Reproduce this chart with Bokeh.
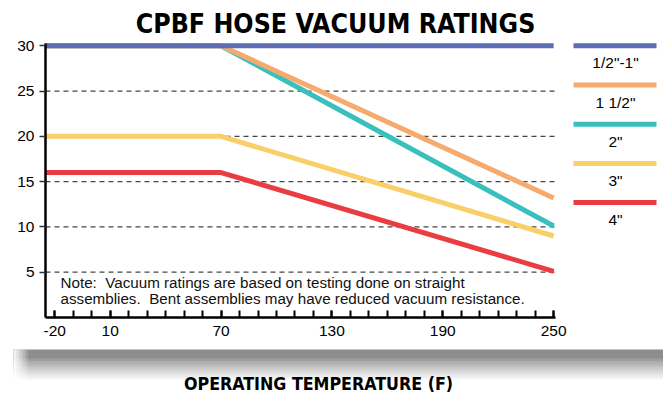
from bokeh.plotting import figure
from bokeh.models import Range1d, FixedTicker, Label, BoxAnnotation, LinearAxis
from bokeh.embed import file_html
from bokeh.resources import INLINE

# ---- data ----
temps = [-25, 70, 250]
series_names = ['1/2"-1"', '1 1/2"', '2"', '3"', '4"']
series_colors = ["#5d6db5", "#f6aa6d", "#39c0bd", "#f8cf68", "#e93d41"]
vac_half_to_1 = [30, 30, 30]
vac_1_half = [30, 30, 13.2]
vac_2 = [30, 30, 10.1]
vac_3 = [20, 20, 9.0]
vac_4 = [16, 16, 5.1]
series_values = [vac_half_to_1, vac_1_half, vac_2, vac_3, vac_4]
x_label_ticks = [-20, 10, 70, 130, 190, 250]
x_all_ticks = list(range(-20, 251, 10))
y_ticks = [5, 10, 15, 20, 25, 30]
grid_ticks = [5, 10, 15, 20, 25]
x_lo, x_hi = -25, 251
y_lo, y_hi = 0, 30.25
title_text = "CPBF HOSE VACUUM RATINGS"
x_title_text = "OPERATING TEMPERATURE (F)"
note_lines = ["Note:\u00a0 Vacuum ratings are based on testing done on straight",
              "assemblies.\u00a0 Bent assemblies may have reduced vacuum resistance."]

NARROW = "Liberation Sans Narrow, DejaVu Sans Condensed, sans-serif"
SANS = "Liberation Sans, Arial, sans-serif"

W, H = 663, 400
# page geometry of the plotting area
px_left, px_right = 45, 555
py_top0, py_zero = 45.3, 317
sx = (px_right - px_left) / (x_hi - x_lo)
sy = (py_zero - py_top0) / 30.0
xr = Range1d(x_lo - px_left / sx, x_lo + (W - px_left) / sx)
yr = Range1d(-(H - py_zero) / sy, py_zero / sy)

p = figure(width=W, height=H, output_backend="svg", toolbar_location=None,
           x_range=xr, y_range=yr, x_axis_location=None, y_axis_location=None,
           min_border=0, min_border_left=0, min_border_right=0,
           min_border_top=0, min_border_bottom=0)
p.outline_line_color = None
p.background_fill_color = "white"
p.border_fill_color = "white"
p.xgrid.visible = False
p.ygrid.visible = False

def box(l, r, t, b, color, alpha=1.0, level="underlay"):
    # screen units: origin at bottom-left of the canvas
    p.add_layout(BoxAnnotation(left=l, right=r, top=t, bottom=b,
                               left_units="screen", right_units="screen",
                               top_units="screen", bottom_units="screen",
                               fill_color=color, fill_alpha=alpha, line_color=None, level=level))

# shadow under the chart card
sh_top = H - 349
n_strips = 20
for i in range(n_strips):
    t = i / (n_strips - 1)
    if t < 0.22:
        g = 0x8c
    else:
        g = int(0x8c + (0xff - 0x8c) * ((t - 0.22) / 0.78) ** 0.85)
    col = "#%02x%02x%02x" % (g, g, g)
    box(13, W, sh_top - i * 1.6, sh_top - (i + 1) * 1.6 - 0.4, col)
# left fade of shadow
for j in range(10):
    box(13 + j * 1.5, 13 + (j + 1) * 1.5 + 0.3, sh_top, sh_top - 33, "white",
        alpha=1.0 - (j + 1) / 11.0)

# dashed gridlines bounded to the plot
p.segment(x0=[x_lo] * len(grid_ticks), x1=[x_hi] * len(grid_ticks),
          y0=grid_ticks, y1=grid_ticks, line_color="#444444", line_width=1.2,
          line_dash="5 4")

for vals, col in list(zip(series_values, series_colors))[::-1]:
    p.line(temps, vals, line_color=col, line_width=5, line_cap="butt")

# axes at fixed locations
xaxis = LinearAxis(fixed_location=y_lo, bounds=(x_lo, x_hi),
                   ticker=FixedTicker(ticks=x_label_ticks, minor_ticks=x_all_ticks))
xaxis.major_label_overrides = {t: str(t) for t in x_label_ticks}
xaxis.axis_line_width = 2.5
xaxis.axis_line_color = "black"
xaxis.major_tick_in = 7
xaxis.major_tick_out = 0
xaxis.minor_tick_in = 7
xaxis.minor_tick_out = 0
xaxis.major_tick_line_width = 2
xaxis.minor_tick_line_width = 2
xaxis.major_tick_line_color = "black"
xaxis.minor_tick_line_color = "black"
xaxis.major_label_text_font = SANS
xaxis.major_label_text_font_size = "15.5px"
xaxis.major_label_text_color = "black"
xaxis.major_label_standoff = 8
p.add_layout(xaxis, "below")

yaxis = LinearAxis(fixed_location=x_lo, bounds=(y_lo, y_hi),
                   ticker=FixedTicker(ticks=y_ticks, minor_ticks=[]))
yaxis.axis_line_width = 2.5
yaxis.axis_line_color = "black"
yaxis.major_tick_in = 0
yaxis.major_tick_out = 6
yaxis.major_tick_line_color = "#333333"
yaxis.major_tick_line_width = 1.5
yaxis.major_label_text_font = SANS
yaxis.major_label_text_font_size = "15.5px"
yaxis.major_label_text_color = "black"
yaxis.major_label_standoff = 5
p.add_layout(yaxis, "left")

def label(x, y, text, font, size, bold=False, align="center", baseline="middle", color="black"):
    p.add_layout(Label(x=x, y=y, x_units="screen", y_units="screen", text=text,
                       text_font=font, text_font_style="bold" if bold else "normal",
                       text_font_size=size, text_align=align, text_baseline=baseline,
                       text_color=color))

# title and axis title
label(335, H - 23, title_text, NARROW, "26.5px", bold=True)
label(318, H - 383, x_title_text, NARROW, "17.7px", bold=True)

# note
for k, line in enumerate(note_lines):
    label(60, H - 282 - 16 * k, line, SANS, "15.2px", align="left", baseline="alphabetic",
          color="#111111")

# legend: swatch line with label below
for k, (name, col) in enumerate(zip(series_names, series_colors)):
    ly = H - (45.3 + 39.2 * k)
    box(573, 656, ly + 2.5, ly - 2.5, col, level="annotation")
    label(615, ly - 17, name, SANS, "15.5px")

open("out.html", "w").write(file_html(p, INLINE))
